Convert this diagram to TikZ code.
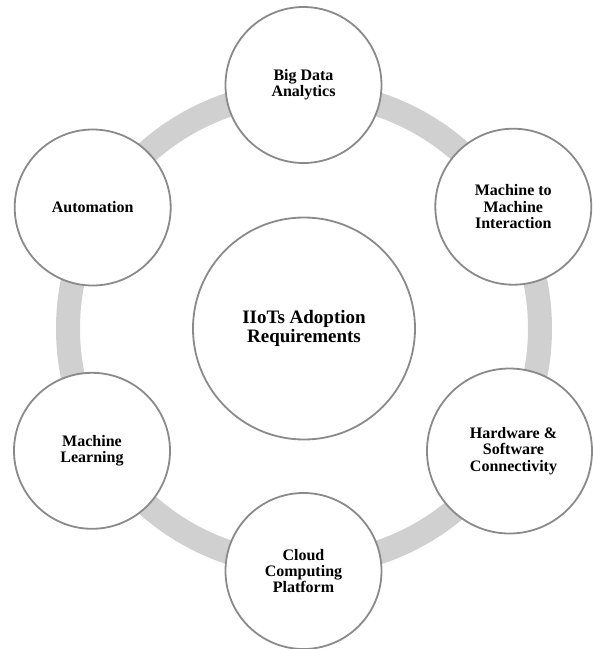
\documentclass[tikz,border=0pt]{standalone}
\usepackage{fontspec}
\setmainfont{Liberation Serif}
\definecolor{ringgray}{HTML}{D0D0D0}
\definecolor{edgegray}{HTML}{8A8A8A}
\tikzset{
  item/.style={circle, draw=edgegray, line width=1.8pt, fill=white, inner sep=0pt,
    minimum size=156pt, align=center, font=\fontsize{16}{16.3}\selectfont\bfseries},
  hub/.style={circle, draw=edgegray, line width=1.8pt, fill=white, inner sep=0pt,
    minimum size=222pt, align=center, font=\fontsize{19}{18.3}\selectfont\bfseries},
  ring/.style={draw=ringgray, line width=24pt}
}
\begin{document}
\begin{tikzpicture}[x=1pt,y=-1pt]
\useasboundingbox (0,0) rectangle (593,649);
\coordinate (o) at (304,328.5);
\draw[ring] (o) circle[radius=236pt];
\node[hub] (c) at (304,328.5) {IIoTs Adoption\\Requirements};
\node[item] (bigdata) at (303.5,85) {Big Data\\Analytics};
\node[item] (m2m) at (513.3,206.7) {Machine to\\Machine\\Interaction};
\node[item, minimum size=165pt] (hw) at (509.5,451) {\hspace*{8pt}Hardware \&\\\hspace*{8pt}Software\\\hspace*{8pt}Connectivity};
\node[item] (cloud) at (303.5,571) {Cloud\\Computing\\Platform};
\node[item] (ml) at (92,450.8) {Machine\\Learning};
\node[item] (auto) at (92.7,207.5) {Automation};
\end{tikzpicture}
\end{document}
